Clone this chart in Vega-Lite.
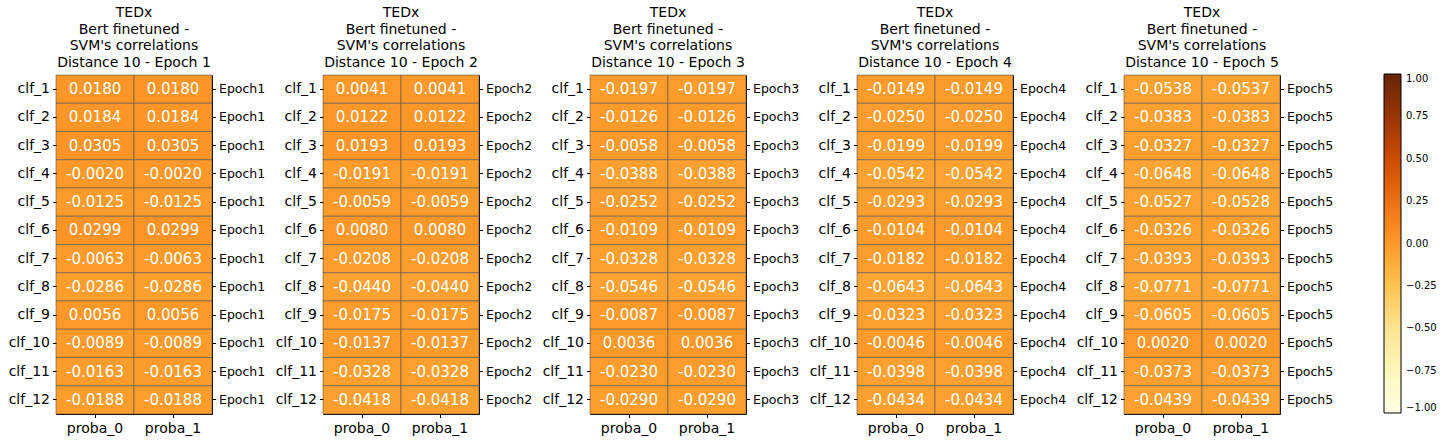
{
  "$schema": "https://vega.github.io/schema/vega-lite/v6.json",
  "padding": {"left": 7, "top": 5, "right": 5, "bottom": 5},
  "background": "white",
  "config": {
    "font": "DejaVu Sans",
    "view": {"stroke": "black", "strokeWidth": 1},
    "axis": {"domain": false, "tickColor": "black", "labelColor": "black", "tickSize": 3.5, "labelPadding": 3, "labelFont": "DejaVu Sans"},
    "title": {"fontSize": 14, "fontWeight": "normal", "font": "DejaVu Sans", "lineHeight": 16.5, "offset": 5, "color": "black"},
    "concat": {"spacing": 111}
  },
  "bounds": "flush",
  "data": {"values": [
    {"e":1,"c":"clf_1","proba_0":0.0180,"proba_1":0.0180},
    {"e":1,"c":"clf_2","proba_0":0.0184,"proba_1":0.0184},
    {"e":1,"c":"clf_3","proba_0":0.0305,"proba_1":0.0305},
    {"e":1,"c":"clf_4","proba_0":-0.0020,"proba_1":-0.0020},
    {"e":1,"c":"clf_5","proba_0":-0.0125,"proba_1":-0.0125},
    {"e":1,"c":"clf_6","proba_0":0.0299,"proba_1":0.0299},
    {"e":1,"c":"clf_7","proba_0":-0.0063,"proba_1":-0.0063},
    {"e":1,"c":"clf_8","proba_0":-0.0286,"proba_1":-0.0286},
    {"e":1,"c":"clf_9","proba_0":0.0056,"proba_1":0.0056},
    {"e":1,"c":"clf_10","proba_0":-0.0089,"proba_1":-0.0089},
    {"e":1,"c":"clf_11","proba_0":-0.0163,"proba_1":-0.0163},
    {"e":1,"c":"clf_12","proba_0":-0.0188,"proba_1":-0.0188},
    {"e":2,"c":"clf_1","proba_0":0.0041,"proba_1":0.0041},
    {"e":2,"c":"clf_2","proba_0":0.0122,"proba_1":0.0122},
    {"e":2,"c":"clf_3","proba_0":0.0193,"proba_1":0.0193},
    {"e":2,"c":"clf_4","proba_0":-0.0191,"proba_1":-0.0191},
    {"e":2,"c":"clf_5","proba_0":-0.0059,"proba_1":-0.0059},
    {"e":2,"c":"clf_6","proba_0":0.0080,"proba_1":0.0080},
    {"e":2,"c":"clf_7","proba_0":-0.0208,"proba_1":-0.0208},
    {"e":2,"c":"clf_8","proba_0":-0.0440,"proba_1":-0.0440},
    {"e":2,"c":"clf_9","proba_0":-0.0175,"proba_1":-0.0175},
    {"e":2,"c":"clf_10","proba_0":-0.0137,"proba_1":-0.0137},
    {"e":2,"c":"clf_11","proba_0":-0.0328,"proba_1":-0.0328},
    {"e":2,"c":"clf_12","proba_0":-0.0418,"proba_1":-0.0418},
    {"e":3,"c":"clf_1","proba_0":-0.0197,"proba_1":-0.0197},
    {"e":3,"c":"clf_2","proba_0":-0.0126,"proba_1":-0.0126},
    {"e":3,"c":"clf_3","proba_0":-0.0058,"proba_1":-0.0058},
    {"e":3,"c":"clf_4","proba_0":-0.0388,"proba_1":-0.0388},
    {"e":3,"c":"clf_5","proba_0":-0.0252,"proba_1":-0.0252},
    {"e":3,"c":"clf_6","proba_0":-0.0109,"proba_1":-0.0109},
    {"e":3,"c":"clf_7","proba_0":-0.0328,"proba_1":-0.0328},
    {"e":3,"c":"clf_8","proba_0":-0.0546,"proba_1":-0.0546},
    {"e":3,"c":"clf_9","proba_0":-0.0087,"proba_1":-0.0087},
    {"e":3,"c":"clf_10","proba_0":0.0036,"proba_1":0.0036},
    {"e":3,"c":"clf_11","proba_0":-0.0230,"proba_1":-0.0230},
    {"e":3,"c":"clf_12","proba_0":-0.0290,"proba_1":-0.0290},
    {"e":4,"c":"clf_1","proba_0":-0.0149,"proba_1":-0.0149},
    {"e":4,"c":"clf_2","proba_0":-0.0250,"proba_1":-0.0250},
    {"e":4,"c":"clf_3","proba_0":-0.0199,"proba_1":-0.0199},
    {"e":4,"c":"clf_4","proba_0":-0.0542,"proba_1":-0.0542},
    {"e":4,"c":"clf_5","proba_0":-0.0293,"proba_1":-0.0293},
    {"e":4,"c":"clf_6","proba_0":-0.0104,"proba_1":-0.0104},
    {"e":4,"c":"clf_7","proba_0":-0.0182,"proba_1":-0.0182},
    {"e":4,"c":"clf_8","proba_0":-0.0643,"proba_1":-0.0643},
    {"e":4,"c":"clf_9","proba_0":-0.0323,"proba_1":-0.0323},
    {"e":4,"c":"clf_10","proba_0":-0.0046,"proba_1":-0.0046},
    {"e":4,"c":"clf_11","proba_0":-0.0398,"proba_1":-0.0398},
    {"e":4,"c":"clf_12","proba_0":-0.0434,"proba_1":-0.0434},
    {"e":5,"c":"clf_1","proba_0":-0.0538,"proba_1":-0.0537},
    {"e":5,"c":"clf_2","proba_0":-0.0383,"proba_1":-0.0383},
    {"e":5,"c":"clf_3","proba_0":-0.0327,"proba_1":-0.0327},
    {"e":5,"c":"clf_4","proba_0":-0.0648,"proba_1":-0.0648},
    {"e":5,"c":"clf_5","proba_0":-0.0527,"proba_1":-0.0528},
    {"e":5,"c":"clf_6","proba_0":-0.0326,"proba_1":-0.0326},
    {"e":5,"c":"clf_7","proba_0":-0.0393,"proba_1":-0.0393},
    {"e":5,"c":"clf_8","proba_0":-0.0771,"proba_1":-0.0771},
    {"e":5,"c":"clf_9","proba_0":-0.0605,"proba_1":-0.0605},
    {"e":5,"c":"clf_10","proba_0":0.0020,"proba_1":0.0020},
    {"e":5,"c":"clf_11","proba_0":-0.0373,"proba_1":-0.0373},
    {"e":5,"c":"clf_12","proba_0":-0.0439,"proba_1":-0.0439}
  ]},
  "hconcat": [
    {
      "width": 156, "height": 339,
      "title": {"text": ["TEDx", "Bert finetuned -", "SVM's correlations", "Distance 10 - Epoch 1"]},
      "transform": [{"filter": "datum.e == 1"}, {"fold": ["proba_0", "proba_1"]}, {"calculate": "replace(format(datum.value, '.4f'), '\u2212', '-')", "as": "lab"}],
      "encoding": {
        "x": {"field": "key", "type": "nominal", "sort": ["proba_0", "proba_1"], "scale": {"paddingInner": 0, "paddingOuter": 0}, "axis": {"title": null, "labelAngle": 0, "labelFontSize": 14, "labelPadding": 4}},
        "y": {"field": "c", "type": "nominal", "sort": ["clf_1","clf_2","clf_3","clf_4","clf_5","clf_6","clf_7","clf_8","clf_9","clf_10","clf_11","clf_12"], "scale": {"paddingInner": 0, "paddingOuter": 0}, "axis": {"title": null, "labelFontSize": 14, "orient": "left"}}
      },
      "layer": [
        {"mark": {"type": "rect", "stroke": "#555555", "strokeWidth": 0.6}, "encoding": {"color": {"field": "value", "type": "quantitative", "scale": {"domain": [-1, -0.75, -0.5, -0.25, 0, 0.25, 0.5, 0.75, 1], "range": ["#ffffe5", "#fff7bc", "#fee391", "#fec44f", "#fe9929", "#ec7014", "#cc4c02", "#993404", "#662506"], "interpolate": "rgb"}, "legend": {"orient": "none", "legendX": 1328, "legendY": -1, "direction": "vertical", "gradientLength": 339, "gradientThickness": 17, "title": null, "values": [-1, -0.75, -0.5, -0.25, 0, 0.25, 0.5, 0.75, 1], "format": ".2f", "labelFontSize": 10, "labelColor": "black", "labelOffset": 5, "gradientStrokeColor": "black", "gradientStrokeWidth": 1}}}},
        {"mark": {"type": "text", "color": "white", "fontSize": 15}, "encoding": {"text": {"field": "lab"}, "y": {"field": "c", "type": "nominal", "sort": ["clf_1","clf_2","clf_3","clf_4","clf_5","clf_6","clf_7","clf_8","clf_9","clf_10","clf_11","clf_12"], "axis": {"title": null, "orient": "right", "labelFontSize": 12.5, "labelExpr": "'Epoch1'"}}}}
      ],
      "resolve": {"axis": {"y": "independent"}}
    },
    {
      "width": 156, "height": 339,
      "title": {"text": ["TEDx", "Bert finetuned -", "SVM's correlations", "Distance 10 - Epoch 2"]},
      "transform": [{"filter": "datum.e == 2"}, {"fold": ["proba_0", "proba_1"]}, {"calculate": "replace(format(datum.value, '.4f'), '\u2212', '-')", "as": "lab"}],
      "encoding": {
        "x": {"field": "key", "type": "nominal", "sort": ["proba_0", "proba_1"], "scale": {"paddingInner": 0, "paddingOuter": 0}, "axis": {"title": null, "labelAngle": 0, "labelFontSize": 14, "labelPadding": 4}},
        "y": {"field": "c", "type": "nominal", "sort": ["clf_1","clf_2","clf_3","clf_4","clf_5","clf_6","clf_7","clf_8","clf_9","clf_10","clf_11","clf_12"], "scale": {"paddingInner": 0, "paddingOuter": 0}, "axis": {"title": null, "labelFontSize": 14, "orient": "left"}}
      },
      "layer": [
        {"mark": {"type": "rect", "stroke": "#555555", "strokeWidth": 0.6}, "encoding": {"color": {"field": "value", "type": "quantitative"}}},
        {"mark": {"type": "text", "color": "white", "fontSize": 15}, "encoding": {"text": {"field": "lab"}, "y": {"field": "c", "type": "nominal", "sort": ["clf_1","clf_2","clf_3","clf_4","clf_5","clf_6","clf_7","clf_8","clf_9","clf_10","clf_11","clf_12"], "axis": {"title": null, "orient": "right", "labelFontSize": 12.5, "labelExpr": "'Epoch2'"}}}}
      ],
      "resolve": {"axis": {"y": "independent"}}
    },
    {
      "width": 156, "height": 339,
      "title": {"text": ["TEDx", "Bert finetuned -", "SVM's correlations", "Distance 10 - Epoch 3"]},
      "transform": [{"filter": "datum.e == 3"}, {"fold": ["proba_0", "proba_1"]}, {"calculate": "replace(format(datum.value, '.4f'), '\u2212', '-')", "as": "lab"}],
      "encoding": {
        "x": {"field": "key", "type": "nominal", "sort": ["proba_0", "proba_1"], "scale": {"paddingInner": 0, "paddingOuter": 0}, "axis": {"title": null, "labelAngle": 0, "labelFontSize": 14, "labelPadding": 4}},
        "y": {"field": "c", "type": "nominal", "sort": ["clf_1","clf_2","clf_3","clf_4","clf_5","clf_6","clf_7","clf_8","clf_9","clf_10","clf_11","clf_12"], "scale": {"paddingInner": 0, "paddingOuter": 0}, "axis": {"title": null, "labelFontSize": 14, "orient": "left"}}
      },
      "layer": [
        {"mark": {"type": "rect", "stroke": "#555555", "strokeWidth": 0.6}, "encoding": {"color": {"field": "value", "type": "quantitative"}}},
        {"mark": {"type": "text", "color": "white", "fontSize": 15}, "encoding": {"text": {"field": "lab"}, "y": {"field": "c", "type": "nominal", "sort": ["clf_1","clf_2","clf_3","clf_4","clf_5","clf_6","clf_7","clf_8","clf_9","clf_10","clf_11","clf_12"], "axis": {"title": null, "orient": "right", "labelFontSize": 12.5, "labelExpr": "'Epoch3'"}}}}
      ],
      "resolve": {"axis": {"y": "independent"}}
    },
    {
      "width": 156, "height": 339,
      "title": {"text": ["TEDx", "Bert finetuned -", "SVM's correlations", "Distance 10 - Epoch 4"]},
      "transform": [{"filter": "datum.e == 4"}, {"fold": ["proba_0", "proba_1"]}, {"calculate": "replace(format(datum.value, '.4f'), '\u2212', '-')", "as": "lab"}],
      "encoding": {
        "x": {"field": "key", "type": "nominal", "sort": ["proba_0", "proba_1"], "scale": {"paddingInner": 0, "paddingOuter": 0}, "axis": {"title": null, "labelAngle": 0, "labelFontSize": 14, "labelPadding": 4}},
        "y": {"field": "c", "type": "nominal", "sort": ["clf_1","clf_2","clf_3","clf_4","clf_5","clf_6","clf_7","clf_8","clf_9","clf_10","clf_11","clf_12"], "scale": {"paddingInner": 0, "paddingOuter": 0}, "axis": {"title": null, "labelFontSize": 14, "orient": "left"}}
      },
      "layer": [
        {"mark": {"type": "rect", "stroke": "#555555", "strokeWidth": 0.6}, "encoding": {"color": {"field": "value", "type": "quantitative"}}},
        {"mark": {"type": "text", "color": "white", "fontSize": 15}, "encoding": {"text": {"field": "lab"}, "y": {"field": "c", "type": "nominal", "sort": ["clf_1","clf_2","clf_3","clf_4","clf_5","clf_6","clf_7","clf_8","clf_9","clf_10","clf_11","clf_12"], "axis": {"title": null, "orient": "right", "labelFontSize": 12.5, "labelExpr": "'Epoch4'"}}}}
      ],
      "resolve": {"axis": {"y": "independent"}}
    },
    {
      "width": 156, "height": 339,
      "title": {"text": ["TEDx", "Bert finetuned -", "SVM's correlations", "Distance 10 - Epoch 5"]},
      "transform": [{"filter": "datum.e == 5"}, {"fold": ["proba_0", "proba_1"]}, {"calculate": "replace(format(datum.value, '.4f'), '\u2212', '-')", "as": "lab"}],
      "encoding": {
        "x": {"field": "key", "type": "nominal", "sort": ["proba_0", "proba_1"], "scale": {"paddingInner": 0, "paddingOuter": 0}, "axis": {"title": null, "labelAngle": 0, "labelFontSize": 14, "labelPadding": 4}},
        "y": {"field": "c", "type": "nominal", "sort": ["clf_1","clf_2","clf_3","clf_4","clf_5","clf_6","clf_7","clf_8","clf_9","clf_10","clf_11","clf_12"], "scale": {"paddingInner": 0, "paddingOuter": 0}, "axis": {"title": null, "labelFontSize": 14, "orient": "left"}}
      },
      "layer": [
        {"mark": {"type": "rect", "stroke": "#555555", "strokeWidth": 0.6}, "encoding": {"color": {"field": "value", "type": "quantitative"}}},
        {"mark": {"type": "text", "color": "white", "fontSize": 15}, "encoding": {"text": {"field": "lab"}, "y": {"field": "c", "type": "nominal", "sort": ["clf_1","clf_2","clf_3","clf_4","clf_5","clf_6","clf_7","clf_8","clf_9","clf_10","clf_11","clf_12"], "axis": {"title": null, "orient": "right", "labelFontSize": 12.5, "labelExpr": "'Epoch5'"}}}}
      ],
      "resolve": {"axis": {"y": "independent"}}
    }
  ]
}
